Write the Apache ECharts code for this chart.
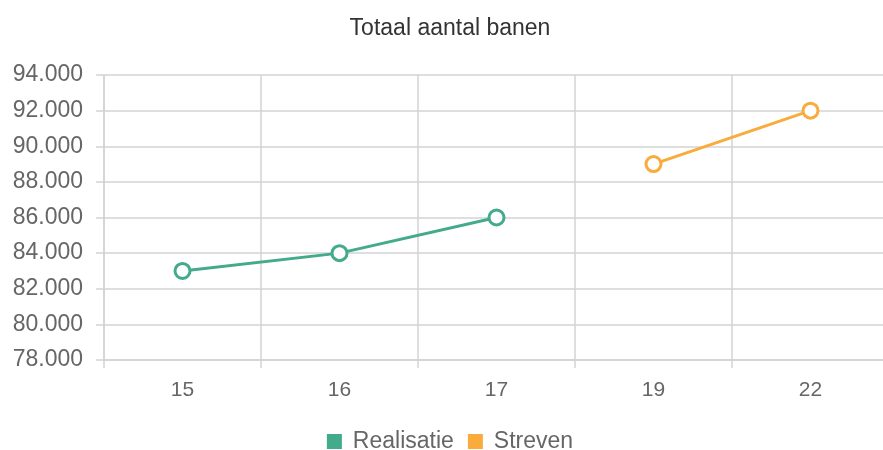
<!DOCTYPE html>
<html>
<head>
<meta charset="utf-8">
<script src="https://cdn.jsdelivr.net/npm/echarts@6/dist/echarts.min.js"></script>
<style>
  html, body { margin: 0; padding: 0; overflow: hidden; background: #fff; }
  #main { width: 900px; height: 450px; }
</style>
</head>
<body>
<div id="main"></div>
<script>
const categories = ['15', '16', '17', '19', '22'];
const realisatie = [83000, 84000, 86000, null, null];
const streven = [null, null, null, 89000, 92000];
const yMin = 78000;
const yMax = 94000;
const yStep = 2000;

const font = 'Arial, "Liberation Sans", sans-serif';
const gridColor = '#d3d3d3';
const green = '#43aa8b';
const orange = '#f9ab3c';

function fmt(v) {
  return String(v).replace(/\B(?=(\d{3})+(?!\d))/g, '.');
}

const chart = echarts.init(document.getElementById('main'));
chart.setOption({
  animation: false,
  title: {
    text: 'Totaal aantal banen',
    left: 'center',
    top: 12,
    textStyle: { fontFamily: font, fontSize: 23, fontWeight: 'normal', color: '#333' }
  },
  legend: {
    data: [
      { name: 'Realisatie', itemStyle: { color: green, borderWidth: 0 } },
      { name: 'Streven', itemStyle: { color: orange, borderWidth: 0 } }
    ],
    top: 425,
    left: 'center',
    icon: 'rect',
    itemWidth: 15,
    itemHeight: 15,
    itemGap: 14,
    textStyle: { fontFamily: font, fontSize: 23, color: '#666', padding: [0, 0, 0, 6] }
  },
  grid: { left: 104, right: 11, top: 75, bottom: 90 },
  xAxis: {
    type: 'category',
    data: categories,
    boundaryGap: true,
    axisLine: { lineStyle: { color: gridColor, width: 1.5 } },
    axisTick: { show: true, length: 8, lineStyle: { color: gridColor, width: 1.5 } },
    splitLine: { show: true, lineStyle: { color: gridColor, width: 1.5 } },
    axisLabel: { fontFamily: font, fontSize: 21, color: '#666', margin: 20 }
  },
  yAxis: {
    type: 'value',
    min: yMin,
    max: yMax,
    interval: yStep,
    axisLine: { show: true, lineStyle: { color: gridColor, width: 1.5 } },
    axisTick: { show: true, length: 8, lineStyle: { color: gridColor, width: 1.5 } },
    splitLine: { show: true, lineStyle: { color: gridColor, width: 1.5 } },
    axisLabel: { fontFamily: font, fontSize: 23, color: '#666', margin: 21, formatter: fmt }
  },
  series: [
    {
      name: 'Realisatie',
      type: 'line',
      data: realisatie,
      symbol: 'circle',
      symbolSize: 15,
      lineStyle: { width: 3, color: green },
      itemStyle: { color: '#fff', borderColor: green, borderWidth: 3 }
    },
    {
      name: 'Streven',
      type: 'line',
      data: streven,
      symbol: 'circle',
      symbolSize: 15,
      lineStyle: { width: 3, color: orange },
      itemStyle: { color: '#fff', borderColor: orange, borderWidth: 3 }
    }
  ]
});
</script>
</body>
</html>
